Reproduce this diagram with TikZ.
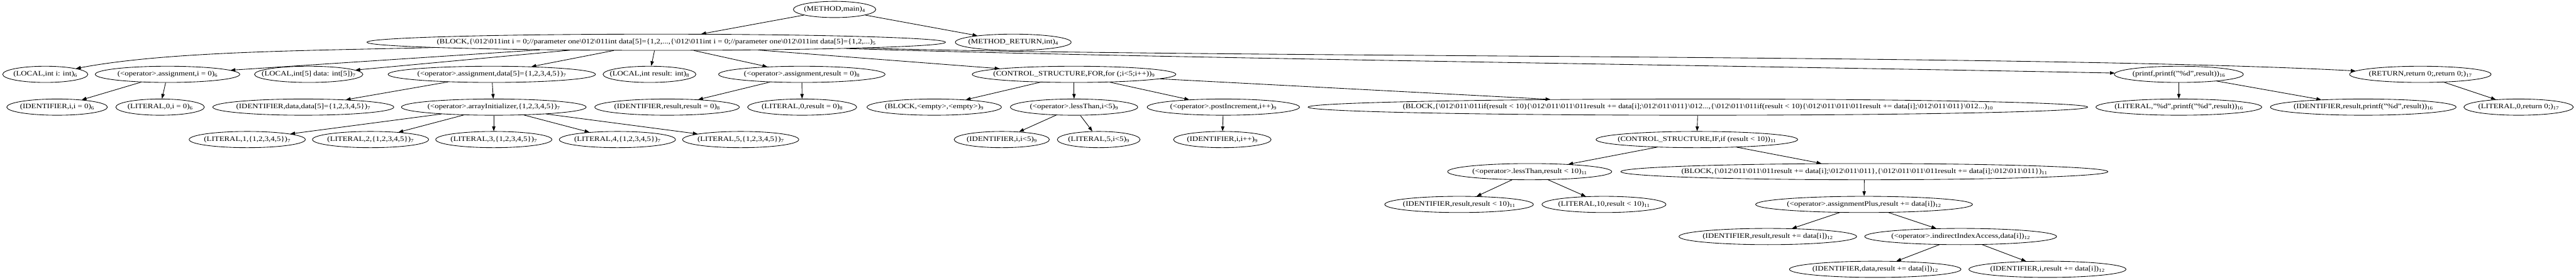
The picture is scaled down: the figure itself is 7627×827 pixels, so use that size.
\documentclass[tikz,border=0pt]{standalone}
\usepackage{fontspec}
\setmainfont{Liberation Serif}[FakeStretch=1.17]
\usepackage{tikz}
\usetikzlibrary{shapes, arrows.meta}

\newcommand{\bsl}{\textbackslash}
\newcommand{\lab}[1]{\makebox[0pt]{#1}}

\begin{document}
\begin{tikzpicture}[
    x = 1pt, y = -1pt,
    line width = 1.6pt,
    font = \fontsize{20.5}{24}\selectfont,
    >={Triangle[length = 14pt, width = 10pt]},
    astnode/.style = {ellipse,
      draw,
      inner sep = 0pt,
      minimum height = 48pt}
    ]
    \useasboundingbox (0, 0) rectangle (7627, 827);

    \node at (2471, 28) [astnode, minimum width = 244pt, name = mth] {\lab{(METHOD,main)\textsubscript{4}}};

    \node at (1943, 125) [astnode, minimum width = 1713pt, name = b5] {\lab{(BLOCK,\{\bsl 012\bsl 011int i = 0;//parameter one\bsl 012\bsl 011int data[5]=\{1,2,...,\{\bsl 012\bsl 011int i = 0;//parameter one\bsl 012\bsl 011int data[5]=\{1,2,...)\textsubscript{5}}};
    \node at (3000, 125) [astnode, minimum width = 343pt, name = mret] {\lab{(METHOD\_RETURN,int)\textsubscript{4}}};

    \node at (134, 220) [astnode, minimum width = 252pt, name = loci] {\lab{(LOCAL,int i: int)\textsubscript{6}}};
    \node at (496, 220) [astnode, minimum width = 428pt, name = asgi] {\lab{(<operator>.assignment,i = 0)\textsubscript{6}}};
    \node at (914, 220) [astnode, minimum width = 321pt, name = locdata] {\lab{(LOCAL,int[5] data: int[5])\textsubscript{7}}};
    \node at (1456, 220) [astnode, minimum width = 614pt, name = asgdata] {\lab{(<operator>.assignment,data[5]=\{1,2,3,4,5\})\textsubscript{7}}};
    \node at (1923, 220) [astnode, minimum width = 275pt, name = locres] {\lab{(LOCAL,int result: int)\textsubscript{8}}};
    \node at (2374, 220) [astnode, minimum width = 493pt, name = asgres] {\lab{(<operator>.assignment,result = 0)\textsubscript{8}}};
    \node at (3180, 220) [astnode, minimum width = 603pt, name = for] {\lab{(CONTROL\_STRUCTURE,FOR,for (;i<5;i++))\textsubscript{9}}};
    \node at (6451, 220) [astnode, minimum width = 382pt, name = prf] {\lab{(printf,printf("\%d",result))\textsubscript{16}}};
    \node at (7166, 220) [astnode, minimum width = 419pt, name = ret] {\lab{(RETURN,return 0;,return 0;)\textsubscript{17}}};

    \node at (169, 317) [astnode, minimum width = 298pt, name = idi] {\lab{(IDENTIFIER,i,i = 0)\textsubscript{6}}};
    \node at (474, 317) [astnode, minimum width = 262pt, name = liti] {\lab{(LITERAL,0,i = 0)\textsubscript{6}}};
    \node at (898, 317) [astnode, minimum width = 536pt, name = iddata] {\lab{(IDENTIFIER,data,data[5]=\{1,2,3,4,5\})\textsubscript{7}}};
    \node at (1462, 317) [astnode, minimum width = 547pt, name = arrinit] {\lab{(<operator>.arrayInitializer,\{1,2,3,4,5\})\textsubscript{7}}};
    \node at (1975, 317) [astnode, minimum width = 428pt, name = idres] {\lab{(IDENTIFIER,result,result = 0)\textsubscript{8}}};
    \node at (2375, 317) [astnode, minimum width = 323pt, name = litres] {\lab{(LITERAL,0,result = 0)\textsubscript{8}}};
    \node at (2766, 317) [astnode, minimum width = 398pt, name = bempty] {\lab{(BLOCK,<empty>,<empty>)\textsubscript{9}}};
    \node at (3180, 317) [astnode, minimum width = 377pt, name = lt] {\lab{(<operator>.lessThan,i<5)\textsubscript{9}}};
    \node at (3622, 317) [astnode, minimum width = 451pt, name = inc] {\lab{(<operator>.postIncrement,i++)\textsubscript{9}}};
    \node at (5027, 317) [astnode, minimum width = 2308pt, name = b10] {\lab{(BLOCK,\{\bsl 012\bsl 011\bsl 011if(result < 10)\{\bsl 012\bsl 011\bsl 011\bsl 011result += data[i];\bsl 012\bsl 011\bsl 011\}\bsl 012...,\{\bsl 012\bsl 011\bsl 011if(result < 10)\{\bsl 012\bsl 011\bsl 011\bsl 011result += data[i];\bsl 012\bsl 011\bsl 011\}\bsl 012...)\textsubscript{10}}};
    \node at (6451, 317) [astnode, minimum width = 491pt, name = litfmt] {\lab{(LITERAL,"\%d",printf("\%d",result))\textsubscript{16}}};
    \node at (6997, 317) [astnode, minimum width = 550pt, name = idprf] {\lab{(IDENTIFIER,result,printf("\%d",result))\textsubscript{16}}};
    \node at (7457, 317) [astnode, minimum width = 324pt, name = litret] {\lab{(LITERAL,0,return 0;)\textsubscript{17}}};

    \node at (732, 413) [astnode, minimum width = 344pt, name = lita] {\lab{(LITERAL,1,\{1,2,3,4,5\})\textsubscript{7}}};
    \node at (1097, 413) [astnode, minimum width = 344pt, name = litb] {\lab{(LITERAL,2,\{1,2,3,4,5\})\textsubscript{7}}};
    \node at (1462, 413) [astnode, minimum width = 344pt, name = litc] {\lab{(LITERAL,3,\{1,2,3,4,5\})\textsubscript{7}}};
    \node at (1828, 413) [astnode, minimum width = 344pt, name = litd] {\lab{(LITERAL,4,\{1,2,3,4,5\})\textsubscript{7}}};
    \node at (2193, 413) [astnode, minimum width = 344pt, name = lite] {\lab{(LITERAL,5,\{1,2,3,4,5\})\textsubscript{7}}};
    \node at (2966, 413) [astnode, minimum width = 282pt, name = idlt] {\lab{(IDENTIFIER,i,i<5)\textsubscript{9}}};
    \node at (3253, 413) [astnode, minimum width = 245pt, name = litlt] {\lab{(LITERAL,5,i<5)\textsubscript{9}}};
    \node at (3619, 413) [astnode, minimum width = 289pt, name = idinc] {\lab{(IDENTIFIER,i,i++)\textsubscript{9}}};
    \node at (5024, 413) [astnode, minimum width = 597pt, name = cif] {\lab{(CONTROL\_STRUCTURE,IF,if (result < 10))\textsubscript{11}}};

    \node at (4529, 508) [astnode, minimum width = 486pt, name = ltres] {\lab{(<operator>.lessThan,result < 10)\textsubscript{11}}};
    \node at (5520, 508) [astnode, minimum width = 1442pt, name = b11] {\lab{(BLOCK,\{\bsl 012\bsl 011\bsl 011\bsl 011result += data[i];\bsl 012\bsl 011\bsl 011\},\{\bsl 012\bsl 011\bsl 011\bsl 011result += data[i];\bsl 012\bsl 011\bsl 011\})\textsubscript{11}}};

    \node at (4320, 605) [astnode, minimum width = 440pt, name = idltres] {\lab{(IDENTIFIER,result,result < 10)\textsubscript{11}}};
    \node at (4749, 605) [astnode, minimum width = 367pt, name = litten] {\lab{(LITERAL,10,result < 10)\textsubscript{11}}};
    \node at (5519, 605) [astnode, minimum width = 642pt, name = asgplus] {\lab{(<operator>.assignmentPlus,result += data[i])\textsubscript{12}}};

    \node at (5234, 700) [astnode, minimum width = 526pt, name = idplus] {\lab{(IDENTIFIER,result,result += data[i])\textsubscript{12}}};
    \node at (5805, 700) [astnode, minimum width = 568pt, name = idx] {\lab{(<operator>.indirectIndexAccess,data[i])\textsubscript{12}}};

    \node at (5552, 797) [astnode, minimum width = 508pt, name = idxdata] {\lab{(IDENTIFIER,data,result += data[i])\textsubscript{12}}};
    \node at (6062, 797) [astnode, minimum width = 465pt, name = idxi] {\lab{(IDENTIFIER,i,result += data[i])\textsubscript{12}}};

    \draw [->] (mth) -- (b5);
    \draw [->] (mth) -- (mret);

    \draw [->] (b5) .. controls (900, 150) and (494, 152) .. (loci);
    \draw [->] (b5) -- (asgi);
    \draw [->] (b5) -- (locdata);
    \draw [->] (b5) -- (asgdata);
    \draw [->] (b5) -- (locres);
    \draw [->] (b5) -- (asgres);
    \draw [->] (b5) -- (for);
    \draw [->] (b5) .. controls (3300, 170) and (5200, 195) .. (prf);
    \draw [->] (b5) .. controls (3600, 172) and (6032, 160) .. (ret);

    \draw [->] (asgi) -- (idi);
    \draw [->] (asgi) -- (liti);
    \draw [->] (asgdata) -- (iddata);
    \draw [->] (asgdata) -- (arrinit);
    \draw [->] (arrinit) -- (lita);
    \draw [->] (arrinit) -- (litb);
    \draw [->] (arrinit) -- (litc);
    \draw [->] (arrinit) -- (litd);
    \draw [->] (arrinit) -- (lite);
    \draw [->] (asgres) -- (idres);
    \draw [->] (asgres) -- (litres);

    \draw [->] (for) -- (bempty);
    \draw [->] (for) -- (lt);
    \draw [->] (for) -- (inc);
    \draw [->] (for) -- (b10);
    \draw [->] (lt) -- (idlt);
    \draw [->] (lt) -- (litlt);
    \draw [->] (inc) -- (idinc);

    \draw [->] (b10) -- (cif);
    \draw [->] (cif) -- (ltres);
    \draw [->] (cif) -- (b11);
    \draw [->] (ltres) -- (idltres);
    \draw [->] (ltres) -- (litten);
    \draw [->] (b11) -- (asgplus);
    \draw [->] (asgplus) -- (idplus);
    \draw [->] (asgplus) -- (idx);
    \draw [->] (idx) -- (idxdata);
    \draw [->] (idx) -- (idxi);

    \draw [->] (prf) -- (litfmt);
    \draw [->] (prf) -- (idprf);
    \draw [->] (ret) -- (litret);

  \end{tikzpicture}
\end{document}
